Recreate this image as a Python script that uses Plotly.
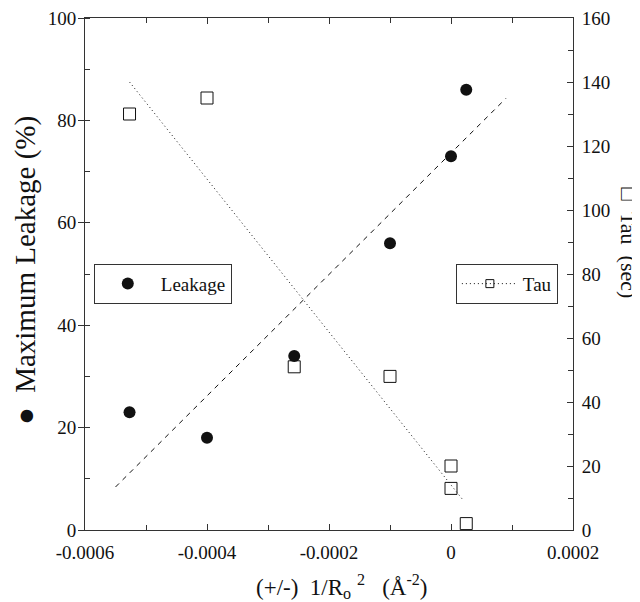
import plotly.graph_objects as go

# ---- DATA ---- #
leak_x = [-0.000527, -0.0004, -0.000257, -0.0001, 0.0, 0.000025]
leak_y = [23, 18, 34, 56, 73, 86]

tau_x = [-0.000527, -0.0004, -0.000257, -0.0001, 0.0, 0.0, 0.000025]
tau_y = [130, 135, 51, 48, 20, 13, 2]

# fitted lines (end points)
leak_fit_x = [-0.00055, 0.00009]
leak_fit_y = [8.4, 84.3]
tau_fit_x = [-0.000527, 0.00002]
tau_fit_y = [140, 9.3]

x_ticks = [-0.0006, -0.0004, -0.0002, 0, 0.0002]
x_tick_text = ["-0.0006", "-0.0004", "-0.0002", "0", "0.0002"]

FONT = "Liberation Serif"
INK = "#111"
AX = "#333"
NB = "\u00a0"

fig = go.Figure()

# Leakage fit (dashed)
fig.add_trace(go.Scatter(
    x=leak_fit_x, y=leak_fit_y, mode="lines",
    line=dict(color=INK, width=1, dash="5px,5px"),
    showlegend=False, hoverinfo="skip"
))

# Tau fit (dotted)
fig.add_trace(go.Scatter(
    x=tau_fit_x, y=tau_fit_y, mode="lines", yaxis="y2",
    line=dict(color=INK, width=1, dash="1px,3px"),
    showlegend=False, hoverinfo="skip"
))

# Leakage points
fig.add_trace(go.Scatter(
    x=leak_x, y=leak_y, mode="markers",
    marker=dict(color=INK, size=12, symbol="circle"),
    name="Leakage", legend="legend"
))

# Tau points
fig.add_trace(go.Scatter(
    x=tau_x, y=tau_y, mode="markers", yaxis="y2",
    marker=dict(color=INK, size=12, symbol="square-open", line=dict(width=1)),
    showlegend=False
))

# Tau legend entry (line + square)
fig.add_trace(go.Scatter(
    x=[None], y=[None], mode="lines+markers", yaxis="y2",
    line=dict(color=INK, width=1, dash="1px,3px"),
    marker=dict(color=INK, size=8, symbol="square-open", line=dict(width=1)),
    name="Tau", legend="legend2"
))

legend_style = dict(
    bgcolor="white", bordercolor=AX, borderwidth=1,
    font=dict(family=FONT, size=19, color=INK),
    itemwidth=56, y=0.52, yanchor="top"
)

axis_common = dict(
    showgrid=False, zeroline=False, showline=True, linecolor=AX, linewidth=1,
    tickcolor=AX, automargin=False, ticklabeloverflow="allow",
)

fig.update_layout(
    width=640, height=602,
    margin=dict(l=77, r=75, t=10, b=80),
    paper_bgcolor="white", plot_bgcolor="white",
    font=dict(family=FONT, size=19, color=INK),
    xaxis=dict(
        range=[-0.0006, 0.0002], tickvals=x_ticks, ticktext=x_tick_text,
        mirror="ticks", ticks="inside", ticklen=6, ticklabelstandoff=5,
        minor=dict(tickmode="linear", tick0=-0.0006, dtick=0.0001,
                   ticks="inside", ticklen=5, tickcolor=AX),
        **axis_common,
    ),
    yaxis=dict(
        range=[0, 100], tickvals=[0, 20, 40, 60, 80, 100],
        ticks="outside", ticklen=6, ticklabelstandoff=-2,
        minor=dict(tickmode="linear", tick0=0, dtick=10,
                   ticks="inside", ticklen=5, tickcolor=AX),
        **axis_common,
    ),
    yaxis2=dict(
        range=[0, 160], tickvals=[0, 20, 40, 60, 80, 100, 120, 140, 160],
        overlaying="y", side="right",
        ticks="inside", ticklen=6, ticklabelstandoff=4,
        minor=dict(tickmode="linear", tick0=0, dtick=10,
                   ticks="inside", ticklen=5, tickcolor=AX),
        **axis_common,
    ),
    legend=dict(x=0.018, xanchor="left", **legend_style),
    legend2=dict(x=0.969, xanchor="right", **legend_style),
    annotations=[
        dict(text="●" + NB * 2 + "Maximum Leakage (%)", textangle=-90,
             xref="paper", yref="paper", x=-0.121, y=0.508,
             xanchor="center", yanchor="middle", showarrow=False,
             font=dict(family=FONT, size=29, color=INK)),
        dict(text="□" + NB * 2 + "Tau" + NB * 2 + "(sec)", textangle=90,
             xref="paper", yref="paper", x=1.113, y=0.561,
             xanchor="center", yanchor="middle", showarrow=False,
             font=dict(family=FONT, size=22, color=INK)),
        dict(text="(+/-)" + NB * 2 + "1/R<sub>o</sub>" + NB + "<sup>2</sup>"
                  + NB * 3 + "(Å<sup>-2</sup>)",
             xref="paper", yref="paper", x=0.527, y=-0.11,
             xanchor="center", yanchor="middle", showarrow=False,
             font=dict(family=FONT, size=23, color=INK)),
    ],
)

fig.write_html("out.html")
